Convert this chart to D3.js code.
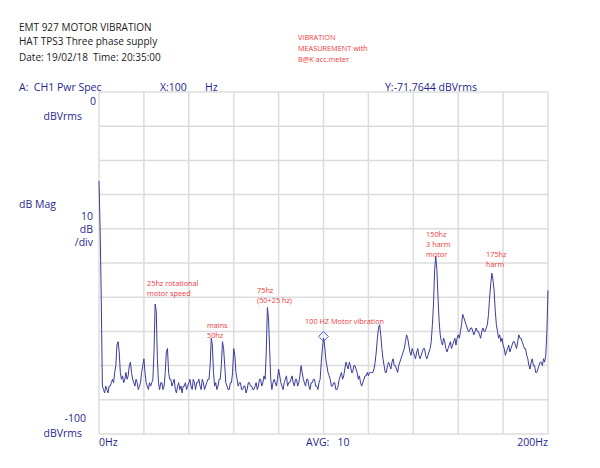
<!DOCTYPE html>
<html>
<head>
<meta charset="utf-8">
<script src="https://cdn.jsdelivr.net/npm/d3@7"></script>
<style>
  body { margin: 0; background: #fff; }
  text { font-family: "Open Sans", "DejaVu Sans", sans-serif; white-space: pre; }
</style>
</head>
<body>
<script>
// spectrum, one value every 0.5 Hz from 0 to 200 Hz (dBVrms)
var binHz = 0.5;
var spectrumDb = [
  -26, -40, -60, -86, -87, -88, -86, -87, -88, -86, -86, -85, -84, -85, -82, -80, -74, -73, -76, -82,
  -84, -83, -85, -84, -82, -84, -83, -80, -79, -82, -84, -85, -86, -84, -85, -87, -86, -85, -82, -80,
  -78, -82, -85, -86, -87, -85, -86, -85, -84, -76, -62, -64, -78, -85, -87, -85, -85, -87, -86, -82,
  -76, -75, -82, -84, -84, -86, -85, -84, -87, -88, -86, -85, -87, -86, -88, -86, -86, -85, -87, -86,
  -85, -84, -86, -87, -84, -85, -87, -85, -85, -84, -86, -87, -84, -85, -87, -86, -85, -84, -84, -80,
  -72, -74, -82, -86, -85, -87, -86, -84, -84, -80, -73, -75, -80, -85, -86, -87, -87, -85, -85, -82,
  -75, -77, -82, -84, -86, -85, -85, -87, -87, -86, -86, -88, -87, -85, -85, -86, -86, -87, -87, -86,
  -85, -87, -86, -84, -84, -86, -85, -83, -84, -76, -63, -66, -75, -84, -87, -85, -84, -85, -86, -84,
  -81, -83, -85, -86, -87, -85, -84, -83, -86, -85, -85, -84, -83, -85, -86, -84, -84, -86, -85, -83,
  -80, -82, -84, -85, -86, -84, -84, -86, -87, -85, -85, -84, -84, -86, -86, -87, -85, -84, -79, -75,
  -72, -74, -78, -80, -82, -83, -84, -86, -86, -85, -85, -87, -87, -86, -84, -83, -82, -84, -83, -81,
  -79, -80, -81, -79, -80, -82, -82, -80, -80, -81, -82, -84, -83, -85, -86, -85, -84, -83, -83, -82,
  -83, -82, -82, -82, -82, -81, -79, -76, -72, -69, -68, -71, -75, -78, -80, -82, -82, -80, -79, -80,
  -81, -79, -78, -80, -80, -81, -82, -80, -79, -78, -77, -76, -75, -73, -71, -72, -74, -76, -77, -75,
  -76, -77, -78, -76, -75, -77, -78, -77, -76, -75, -75, -77, -78, -77, -76, -75, -73, -68, -62, -52,
  -48, -52, -60, -67, -71, -73, -74, -72, -73, -75, -76, -75, -74, -73, -75, -74, -73, -72, -74, -72,
  -71, -72, -70, -68, -65, -66, -67, -68, -69, -70, -70, -69, -69, -70, -71, -70, -69, -70, -70, -71,
  -72, -70, -69, -70, -70, -69, -68, -65, -60, -56, -53, -55, -58, -64, -68, -70, -72, -71, -73, -72,
  -74, -75, -77, -76, -75, -74, -76, -75, -74, -73, -73, -74, -75, -73, -71, -72, -72, -73, -74, -75,
  -75, -77, -78, -80, -81, -79, -78, -80, -80, -82, -82, -81, -80, -79, -79, -80, -78, -79, -77, -70,
  -58
];

var headerLines = ["EMT 927 MOTOR VIBRATION", "HAT TPS3 Three phase supply", "Date: 19/02/18  Time: 20:35:00"];
var noteLines = ["VIBRATION", "MEASUREMENT with", "B@K acc.meter"];

var markerHz = 100;
var markerDb = -71.7644;

// peak notes: text lines and where (Hz, dB) the first line starts
var peakNotes = [
  { lines: ["25hz rotational", "motor speed"], hz: 21.4, db: -56.7 },
  { lines: ["mains", "50hz"], hz: 48.1, db: -69.0 },
  { lines: ["75hz", "(50+25 hz)"], hz: 70.4, db: -58.8 },
  { lines: ["100 HZ Motor vibration"], hz: 91.8, db: -67.8 },
  { lines: ["150hz", "3 harm", "motor"], hz: 145.7, db: -42.4 },
  { lines: ["175hz", "harm"], hz: 172.4, db: -48.2 }
];

var width = 600, height = 468;
var plotLeft = 99, plotRight = 548, plotTop = 92, plotBottom = 434;
var navy = "#1f1f8f";
var red = "#f0393c";

var svg = d3.select("body").append("svg")
  .attr("width", width)
  .attr("height", height);

var x = d3.scaleLinear().domain([0, 200]).range([plotLeft, plotRight]);
var y = d3.scaleLinear().domain([0, -100]).range([plotTop, plotBottom]);

// grid, 10 x 10 divisions
svg.append("g").selectAll("line")
  .data(d3.range(0, 201, 20))
  .join("line")
  .attr("x1", d => x(d)).attr("x2", d => x(d))
  .attr("y1", plotTop).attr("y2", plotBottom)
  .attr("stroke", "#dcdcdc").attr("stroke-width", 1.5);

svg.append("g").selectAll("line")
  .data(d3.range(0, -101, -10))
  .join("line")
  .attr("x1", plotLeft).attr("x2", plotRight)
  .attr("y1", d => y(d)).attr("y2", d => y(d))
  .attr("stroke", "#dcdcdc").attr("stroke-width", 1.5);

// header
svg.append("g").selectAll("text")
  .data(headerLines)
  .join("text")
  .attr("x", 19)
  .attr("y", (d, i) => [31, 45, 61][i])
  .attr("font-size", 10)
  .attr("fill", "#1a1a1a")
  .text(d => d);

svg.append("g").selectAll("text")
  .data(noteLines)
  .join("text")
  .attr("x", 298)
  .attr("y", (d, i) => 40 + i * 11)
  .attr("font-size", 7.3)
  .attr("fill", red)
  .text(d => d);

// readout row
var readout = svg.append("g").attr("fill", navy).attr("font-size", 10.5);
readout.append("text").attr("x", 19).attr("y", 91).text("A:  CH1 Pwr Spec");
readout.append("text").attr("x", 160).attr("y", 91).text("X:" + markerHz);
readout.append("text").attr("x", 205).attr("y", 91).text("Hz");
readout.append("text").attr("x", 385).attr("y", 91).text("Y:" + markerDb.toFixed(4) + " dBVrms");

// left labels
var lab = svg.append("g").attr("fill", navy).attr("font-size", 10.5);
lab.append("text").attr("x", 96).attr("y", 105).attr("text-anchor", "end").text("0");
lab.append("text").attr("x", 82).attr("y", 120).attr("text-anchor", "end").text("dBVrms");
lab.append("text").attr("x", 19).attr("y", 208).text("dB Mag");
lab.append("text").attr("x", 93).attr("y", 220).attr("text-anchor", "end").text("10");
lab.append("text").attr("x", 93).attr("y", 233).attr("text-anchor", "end").text("dB");
lab.append("text").attr("x", 93).attr("y", 246).attr("text-anchor", "end").text("/div");
lab.append("text").attr("x", 86).attr("y", 422).attr("text-anchor", "end").text("-100");
lab.append("text").attr("x", 82).attr("y", 437).attr("text-anchor", "end").text("dBVrms");

// bottom labels
lab.append("text").attr("x", x(0)).attr("y", 446).text("0Hz");
lab.append("text").attr("x", 306).attr("y", 446).text("AVG:   10");
lab.append("text").attr("x", x(200)).attr("y", 446).attr("text-anchor", "end").text("200Hz");

// spectrum trace
var line = d3.line()
  .x((d, i) => x(i * binHz))
  .y(d => y(d));

svg.append("path")
  .datum(spectrumDb)
  .attr("d", line)
  .attr("fill", "none")
  .attr("stroke", "#3b3b9e")
  .attr("stroke-width", 1);

// marker diamond
svg.append("path")
  .attr("d", d3.symbol(d3.symbolDiamond2, 60)())
  .attr("transform", "translate(" + x(markerHz) + "," + (y(markerDb) - 1) + ")")
  .attr("fill", "none")
  .attr("stroke", "#3b5bff")
  .attr("stroke-width", 1);

// red notes over the peaks
peakNotes.forEach(function(n) {
  svg.append("g").selectAll("text")
    .data(n.lines)
    .join("text")
    .attr("x", x(n.hz))
    .attr("y", (d, i) => y(n.db) + i * 10)
    .attr("font-size", 7.3)
    .attr("fill", red)
    .text(d => d);
});
</script>
</body>
</html>
